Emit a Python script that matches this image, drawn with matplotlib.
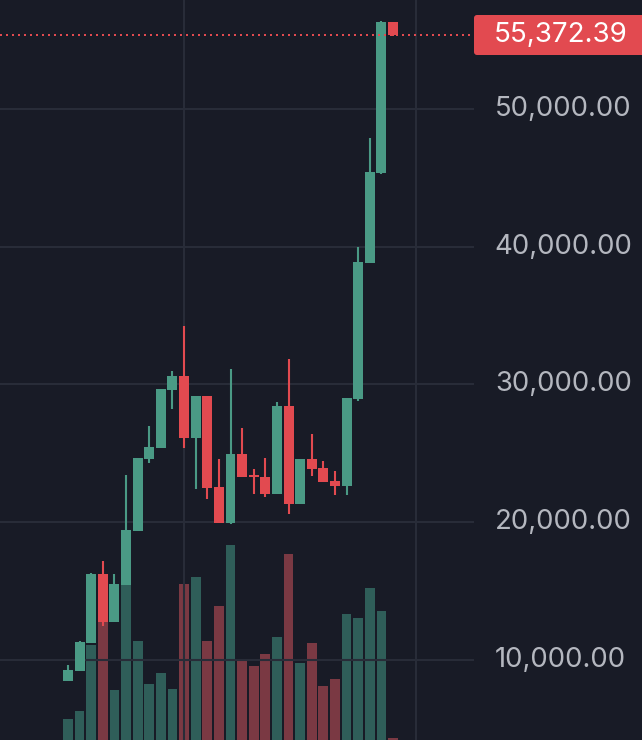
import matplotlib
matplotlib.use("Agg")
import matplotlib.pyplot as plt
from matplotlib.patches import FancyBboxPatch
from matplotlib.ticker import FixedLocator, FuncFormatter
import matplotlib.transforms as mtransforms

# ---- data ----
opens  = [8475, 9201, 11235, 16245, 12760, 15447, 19368, 24597, 25396, 29607,
          30624, 26122, 29172, 22563, 19949, 24960, 23435, 23289, 22055, 28445,
          21329, 24597, 23943, 22999, 22636, 28954, 38830, 45366, 56332]
highs  = [9637, 11380, 16318, 17189, 16245, 23435, 24669, 26993, 29680, 30987,
          34255, 29172, 29172, 24597, 31132, 26848, 23870, 24669, 28736, 31859,
          24597, 26412, 24451, 23725, 29026, 39992, 47908, 56405, 56332]
lows   = [8475, 9201, 11235, 12469, 12760, 15447, 19368, 24306, 25396, 28228,
          25396, 22418, 21692, 19949, 19876, 23289, 22055, 21837, 22055, 20603,
          21329, 23362, 22926, 21982, 21982, 28809, 38830, 45294, 55300]
closes = [9274, 11307, 16245, 12760, 15519, 19441, 24669, 25468, 29680, 30624,
          26122, 29172, 22491, 19949, 24960, 23289, 23289, 22055, 28445, 21329,
          24597, 23870, 22926, 22636, 29026, 38903, 45439, 56332, 55372.39]
volumes = [21, 29, 95, 118, 50, 155, 99, 56, 67, 51,
           156, 163, 99, 134, 195, 81, 74, 86, 103, 186,
           77, 97, 54, 61, 126, 122, 152, 129, 2]
price_ticks = [10000, 20000, 30000, 40000, 50000]
month_starts = [10, 30]
last_price = closes[-1]

# ---- style ----
BG = "#181b26"
GRID = "#282c38"
UP = "#4a9a85"
DOWN = "#e24a50"
UP_VOL = "#2f5e59"
DOWN_VOL = "#7a3943"
LABEL = "#b4b7bf"

plt.rcParams['font.family'] = ['Inter', 'DejaVu Sans']

W, H = 642, 740
fig = plt.figure(figsize=(W / 100, H / 100), dpi=100, facecolor=BG)
plot_right = 474 / W
ax = fig.add_axes([0, 0, plot_right, 1])
ax.set_facecolor(BG)

n = len(closes)
xs = list(range(n))

# volume overlay
vax = ax.twinx()
vax.set_ylim(0, max(volumes) * 3.8)
vcols = [UP_VOL if c >= o else DOWN_VOL for o, c in zip(opens, closes)]
vax.bar(xs, volumes, width=0.84, color=vcols, zorder=1)
vax.set_axis_off()

ax.set_zorder(vax.get_zorder() + 1)
ax.patch.set_visible(False)
fig.patch.set_facecolor(BG)

# candles
cols = [UP if c >= o else DOWN for o, c in zip(opens, closes)]
ax.vlines(xs, lows, highs, colors=cols, linewidth=1.5, zorder=3)
bottoms = [min(o, c) for o, c in zip(opens, closes)]
heights = [max(abs(c - o), 120) for o, c in zip(opens, closes)]
ax.bar(xs, heights, bottom=bottoms, width=0.86, color=cols, zorder=4, linewidth=0)

ax.set_xlim(-5.86, 34.98)
ax.set_ylim(4192, 57913)

# grid
for p in price_ticks:
    ax.axhline(p, color=GRID, linewidth=1.5, zorder=0.5)
for m in month_starts:
    ax.axvline(m, color=GRID, linewidth=1.5, zorder=0.5)

# last price dotted line
ax.axhline(last_price, color=DOWN, linewidth=1.44, linestyle=(0, (1, 2)), zorder=5)

for s in ax.spines.values():
    s.set_visible(False)
ax.set_xticks([])
ax.yaxis.tick_right()
ax.yaxis.set_major_locator(FixedLocator(price_ticks))
ax.yaxis.set_major_formatter(FuncFormatter(lambda v, _: f"{v:,.2f}"))
ax.tick_params(axis='y', length=0, pad=15, labelsize=19.8, labelcolor=LABEL)
for lbl in ax.get_yticklabels():
    lbl.set_va('center')

# last price label box
trans = mtransforms.blended_transform_factory(fig.transFigure, ax.transData)
y_disp = ax.transData.transform((0, last_price))[1]
box_h = 40
box = FancyBboxPatch((474, y_disp - box_h / 2), 200, box_h,
                     boxstyle="round,pad=0,rounding_size=3",
                     transform=None, facecolor=DOWN, edgecolor='none',
                     zorder=10, figure=fig)
fig.patches.append(box)
fig.text(494 / W, last_price, f"{last_price:,.2f}", transform=trans,
         color="white", fontsize=20, ha='left', va='center', zorder=11)

fig.savefig("out.png", dpi=100, facecolor=BG)
